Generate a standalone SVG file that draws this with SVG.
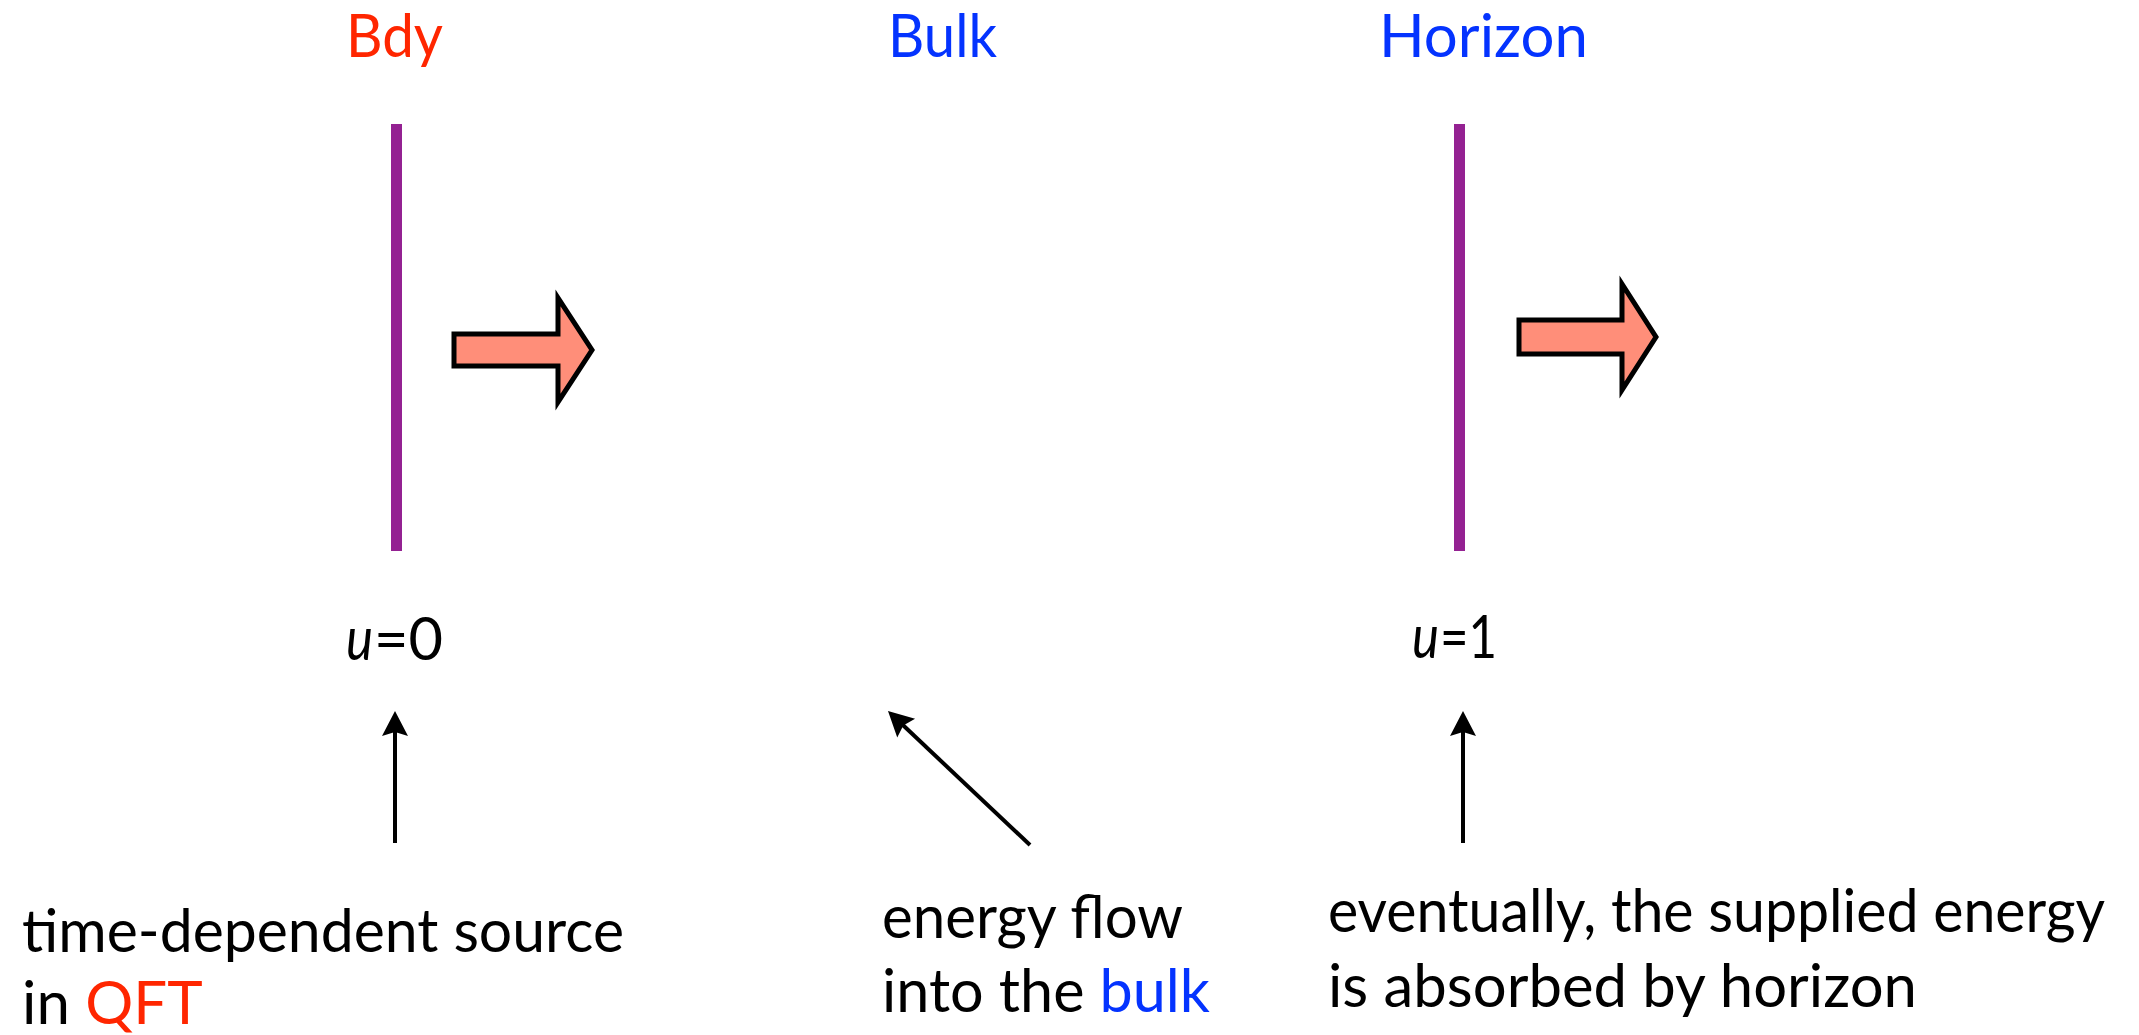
<svg xmlns="http://www.w3.org/2000/svg" width="2139" height="1035" viewBox="0 0 2139 1035">
<style>
.t{font-family:Lato,"Liberation Sans",sans-serif;font-size:60px;fill:#000}
.it{font-style:italic}
.red{fill:#FF2600}
.blue{fill:#0433FF}
.wall{stroke:#942192;stroke-width:11;fill:none}
.blk{fill:#FF8E79;stroke:#000;stroke-width:5;stroke-linejoin:miter}
.conn{stroke:#000;stroke-width:4;fill:none}
</style>
<defs>
<marker id="ah" viewBox="-12 -15 30 30" refX="0" refY="0" markerWidth="30" markerHeight="30" markerUnits="userSpaceOnUse" orient="auto">
<path d="M15,0 L-10,-13 L-6,0 L-10,13 Z" fill="#000"/>
</marker>
</defs>
<rect width="2139" height="1035" fill="#fff"/>
<g id="bdy">
<text class="t red" x="346" y="57" textLength="97" lengthAdjust="spacingAndGlyphs">Bdy</text>
<line class="wall" x1="396.5" y1="124" x2="396.5" y2="551"/>
<polygon class="blk" points="454,334 558,334 558,298 592,350 558,402 558,366 454,366"/>
<text class="t it" x="346" y="660" textLength="27" lengthAdjust="spacingAndGlyphs">u</text>
<text class="t" x="374" y="660" textLength="69" lengthAdjust="spacingAndGlyphs">=0</text>
</g>
<g id="bulk">
<text class="t blue" x="888" y="57" textLength="109" lengthAdjust="spacingAndGlyphs">Bulk</text>
</g>
<g id="horizon">
<text class="t blue" x="1379" y="57" textLength="209" lengthAdjust="spacingAndGlyphs">Horizon</text>
<line class="wall" x1="1459.5" y1="124" x2="1459.5" y2="551"/>
<polygon class="blk" points="1519,320 1622,320 1622,284 1656,337 1622,390 1622,354 1519,354"/>
<text class="t it" x="1412" y="658" textLength="27" lengthAdjust="spacingAndGlyphs">u</text>
<text class="t" x="1440" y="658" textLength="57" lengthAdjust="spacingAndGlyphs">=1</text>
</g>
<g id="note-source">
<text class="t" x="22" y="952" textLength="602" lengthAdjust="spacingAndGlyphs">time-dependent source</text>
<text class="t" x="22" y="1024">in <tspan class="red">QFT</tspan></text>
</g>
<g id="note-flow">
<text class="t" x="882" y="938" textLength="301" lengthAdjust="spacingAndGlyphs">energy flow</text>
<text class="t" x="882" y="1012" textLength="328" lengthAdjust="spacingAndGlyphs">into the <tspan class="blue">bulk</tspan></text>
</g>
<g id="note-absorb">
<text class="t" x="1328" y="932" textLength="777" lengthAdjust="spacingAndGlyphs">eventually, the supplied energy</text>
<text class="t" x="1328" y="1007" textLength="589" lengthAdjust="spacingAndGlyphs">is absorbed by horizon</text>
</g>
<g id="connectors">
<line class="conn" x1="395" y1="843" x2="395" y2="726" marker-end="url(#ah)"/>
<line class="conn" x1="1030" y1="845" x2="898.9" y2="721.3" marker-end="url(#ah)"/>
<line class="conn" x1="1463" y1="843" x2="1463" y2="726" marker-end="url(#ah)"/>
</g>
</svg>
